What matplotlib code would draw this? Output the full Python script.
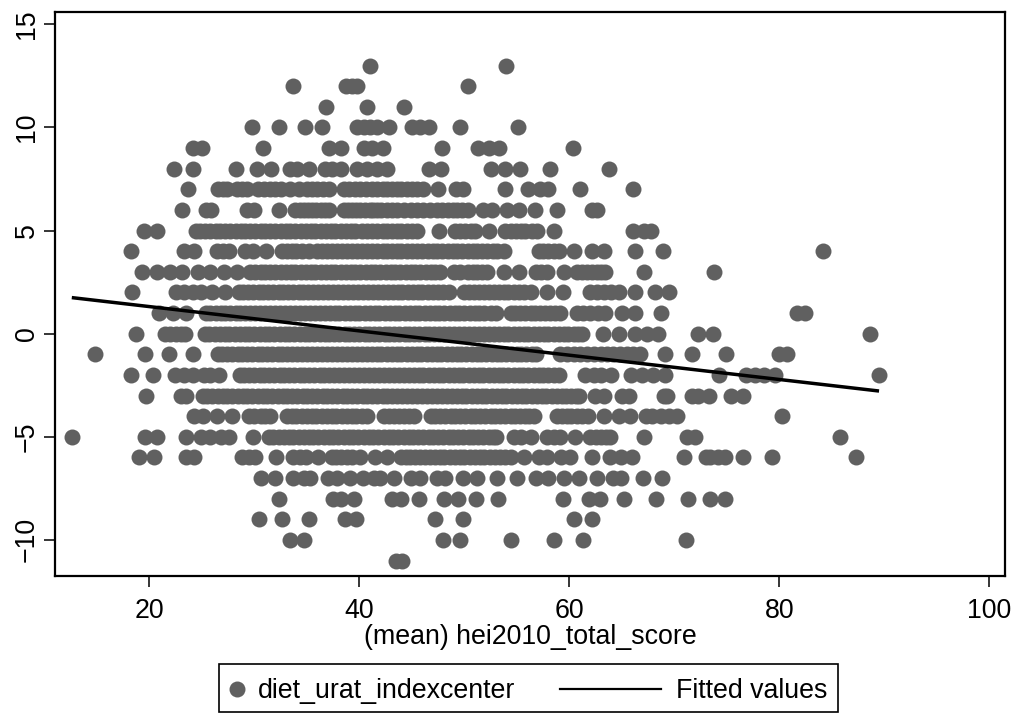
import matplotlib
matplotlib.use("Agg")
import matplotlib.pyplot as plt
from matplotlib.lines import Line2D
from matplotlib.patches import Rectangle

plt.rcParams['font.family'] = ['Liberation Sans', 'DejaVu Sans']

row_13 = [41.0, 54.0]
row_12 = [33.7, 38.7, 39.3, 39.8, 50.3]
row_11 = [36.8, 40.7, 44.2]
row_10 = [29.8, 32.3, 34.8, 36.4, 39.8, 40.4, 41.05, 41.7, 42.8, 45.0, 45.8, 46.6, 49.6, 55.1]
row_9 = [24.1, 25.0, 30.8, 37.1, 38.2, 40.4, 41.2, 42.2, 47.9, 51.3, 52.3, 53.3, 60.3]
row_8 = [22.3, 24.1, 28.2, 30.2, 31.6, 33.4, 34.1, 35.2, 36.7, 37.4, 38.2, 39.8, 40.7, 41.7, 42.6,
         46.6, 47.8, 52.5, 53.9, 55.3, 58.2, 63.8]
row_7 = [23.7, 26.5, 27.0, 27.4, 28.3, 28.8, 29.3, 30.3, 30.9, 31.5, 32.0, 32.5, 33.4, 34.2, 35.0, 35.5, 36.0, 36.5, 37.1,
         38.5, 39.0, 39.6, 40.1, 40.6, 41.2, 41.7, 42.2, 42.6, 43.1, 43.6, 44.0, 44.5, 45.0, 45.5, 46.1,
         47.5, 49.2, 49.9, 53.9, 56.1, 57.2, 58.0, 61.0, 66.1]
row_6 = [23.1, 25.4, 25.9, 29.3, 30.0, 32.3, 33.9, 34.3, 34.7, 35.1, 35.5, 35.9, 36.3, 36.7, 37.1, 38.5, 38.9, 39.3, 39.7, 40.1,
         40.5, 41.0, 41.3, 41.7, 42.1, 42.6, 43.1, 43.6, 44.2, 44.9, 45.5, 46.1, 46.7, 47.4, 47.9, 48.4, 48.9, 49.3, 49.8, 50.3,
         51.8, 52.6, 54.1, 55.2, 56.7, 58.8, 62.2, 62.6]
row_5 = [19.5, 20.7, 24.4, 24.8, 25.3, 25.8, 26.3, 26.7, 27.2, 27.7, 28.2, 28.7, 29.1, 29.6, 30.1, 30.6, 31.0, 31.5, 32.0, 32.5,
         33.0, 33.4, 33.9, 34.4, 34.9, 35.4, 35.8, 36.3, 36.8, 37.3, 37.7, 38.2, 38.7, 39.2, 39.6, 40.2, 40.7, 41.2, 41.7, 42.2,
         42.6, 43.1, 43.6, 44.0, 44.5, 45.0, 45.5, 47.6, 49.1, 49.6, 50.1, 50.6, 51.0, 52.3,
         53.9, 54.4, 54.9, 55.4, 55.8, 56.4, 56.9, 58.5, 66.1, 67.1, 67.8]
row_4 = [18.2, 23.3, 24.2, 26.4, 27.0, 27.6, 29.1, 29.9, 31.1, 32.6, 33.1, 33.6, 34.0, 34.5, 35.2, 36.0, 36.4, 36.9, 37.4, 37.9,
         38.3, 38.8, 39.3, 39.8, 40.2, 40.7, 41.2, 41.7, 42.2, 42.6, 43.1, 43.6, 44.0, 44.5, 45.0, 45.5, 46.0, 46.5, 47.0, 47.4,
         47.9, 48.4, 48.9, 49.3, 49.8, 50.3, 50.8, 51.2, 51.7, 52.2, 52.7, 53.1,
         53.8, 57.1, 57.5, 58.0, 58.5, 59.0, 60.4, 62.2, 63.3, 66.3, 68.9, 84.2]
row_3 = [19.3, 20.7, 22.0, 23.1, 24.6, 25.8, 27.1, 28.3, 29.6, 30.1, 30.6, 31.0, 31.5, 32.0, 32.5, 33.0, 33.5, 33.9, 34.4, 34.9,
         35.4, 35.8, 36.3, 36.8, 37.3, 37.7, 38.2, 38.7, 39.2, 39.6, 40.1, 40.6, 41.1, 41.5, 42.0, 42.5, 43.0, 43.4, 43.9, 44.4,
         44.9, 45.3, 45.8, 46.3, 46.8, 47.2, 47.7, 49.0, 49.6, 50.3,
         50.8, 51.2, 51.7, 52.2, 53.8, 55.2, 56.8, 57.3, 57.9, 59.5, 60.7, 61.2, 61.7, 62.2, 62.6, 63.0, 63.4, 67.1, 73.8]
row_2 = [18.3, 22.5, 23.3, 24.1, 24.9, 26.0, 27.2, 28.5, 28.9, 29.4, 29.9, 30.4, 30.8, 31.3, 31.8, 32.3, 32.7, 33.2, 33.7, 34.2,
         34.6, 35.1, 35.6, 36.1, 36.5, 37.0, 37.5, 38.0, 38.4, 38.9, 39.4, 39.9, 40.3, 40.8, 41.3, 41.8, 42.2, 42.7, 43.2, 43.7,
         44.1, 44.6, 45.1, 45.6, 46.0, 46.5, 47.0, 47.5, 48.0, 48.5, 50.0, 50.4, 50.9, 51.4, 51.9, 52.3, 52.8, 53.3, 53.8, 54.2,
         54.7, 55.2, 55.7, 56.3, 57.9, 59.4, 62.0, 62.6, 63.3, 64.0, 64.7, 66.3, 68.2, 69.5]
row_1 = [20.9, 22.2, 23.5, 25.4, 25.8, 26.3, 26.8, 27.2, 27.7, 28.2, 28.6, 29.1, 29.6, 30.1, 30.5, 31.0, 31.5, 32.0, 32.4, 32.9,
         33.4, 33.9, 34.3, 34.8, 35.3, 35.8, 36.2, 36.7, 37.2, 37.7, 38.1, 38.6, 39.1, 39.6, 40.0, 40.5, 41.0, 41.5, 41.9, 42.4,
         42.9, 43.4, 43.8, 44.3, 44.8, 45.3, 45.7, 46.2, 46.7, 47.2, 47.6, 48.1, 48.6, 49.1, 49.5, 50.0, 50.5, 51.0, 51.4, 51.9,
         52.5, 53.0, 54.4, 54.8, 55.3, 55.8, 56.3, 56.7, 57.2, 57.7, 58.2, 58.6, 59.1, 60.7, 61.3, 62.0, 62.7, 63.4, 65.0, 66.3,
         68.7, 81.7, 82.4]
row_0 = [18.7, 21.5, 22.0, 22.5, 23.0, 23.4, 25.3, 25.7, 26.2, 26.7, 27.2, 27.6, 28.1, 28.6, 29.1, 29.5, 30.0, 30.5, 31.0, 31.4,
         31.9, 32.4, 32.9, 33.3, 33.8, 34.3, 34.8, 35.2, 35.7, 36.2, 36.7, 37.1, 37.6, 38.1, 38.6, 39.0, 39.5, 40.0, 40.5, 40.9,
         41.4, 41.9, 42.4, 42.8, 43.3, 43.8, 44.3, 44.7, 45.2, 45.7, 46.2, 46.6, 47.1, 47.6, 48.1, 48.5, 49.0, 49.5, 50.0, 50.4,
         50.9, 51.4, 51.9, 52.3, 52.8, 53.3, 53.8, 54.2, 54.7, 55.2, 55.7, 56.1, 56.6, 57.1, 57.6, 58.0, 58.5, 59.0, 59.5, 59.9,
         60.4, 60.8, 61.2, 63.2, 64.7, 66.3, 67.4, 68.4, 72.3, 73.7, 88.6]
row_m1 = [14.8, 19.6, 21.9, 24.1, 26.5, 26.9, 27.4, 27.9, 28.4, 28.8, 29.3, 29.8, 30.3, 30.7, 31.2, 31.7, 32.2, 32.6, 33.1, 33.6,
          34.1, 34.5, 35.0, 35.5, 36.0, 36.4, 36.9, 37.4, 37.9, 38.3, 38.8, 39.3, 39.8, 40.2, 40.7, 41.2, 41.7, 42.1, 42.6, 43.1,
          43.6, 44.0, 44.5, 45.0, 45.5, 45.9, 46.4, 46.9, 47.4, 47.8, 48.3, 48.8, 49.3, 49.7, 50.2, 50.7, 51.2, 51.6, 52.1, 52.6,
          53.1, 53.5, 54.0, 54.5, 55.0, 55.4, 55.9, 56.4, 56.8, 59.1, 59.8, 60.4, 61.0, 61.7, 62.3, 63.0, 63.6, 64.2, 64.8, 65.5,
          66.1, 66.7, 69.1, 71.7, 74.9, 80.0, 80.7]
row_m2 = [18.2, 20.3, 22.4, 23.3, 24.1, 25.2, 25.8, 26.6, 28.6, 29.0, 29.5, 30.0, 30.5, 30.9, 31.4, 31.9, 32.4, 32.8, 33.3, 33.8,
          34.3, 34.7, 35.2, 35.7, 36.2, 36.6, 37.1, 37.6, 38.1, 38.5, 39.0, 39.5, 40.0, 40.4, 40.9, 41.4, 41.9, 42.3, 42.8, 43.3,
          43.8, 44.2, 44.7, 45.2, 45.7, 46.1, 46.6, 47.1, 47.6, 48.0, 48.5, 49.0, 49.5, 49.9, 50.4, 50.9, 51.4, 51.8, 52.3, 52.8,
          53.3, 53.7, 54.2, 54.7, 55.2, 55.6, 56.1, 56.6, 57.1, 57.5, 58.0, 58.5, 59.0, 61.5, 62.3, 63.0, 64.0,
          65.9, 66.9, 68.0, 69.1, 74.3, 76.8, 77.7, 78.5, 79.6, 89.5]
row_m3 = [19.7, 23.0, 23.5, 25.1, 25.5, 26.0, 26.5, 27.0, 27.4, 27.9, 28.4, 28.9, 29.3, 29.8, 30.3, 30.8, 31.2, 31.7, 32.2, 32.7,
          33.1, 33.6, 34.1, 34.6, 35.0, 35.5, 36.0, 36.5, 36.9, 37.4, 37.9, 38.4, 38.8, 39.3, 39.8, 40.3, 40.7, 41.2, 41.7, 42.2,
          42.6, 43.1, 43.6, 44.1, 44.5, 45.0, 45.5, 46.0, 46.4, 46.9, 47.4, 47.9, 48.3, 48.8, 49.3, 49.8, 50.2, 50.7, 51.2, 51.7,
          52.1, 52.6, 53.1, 53.6, 54.0, 54.5, 55.0, 55.5, 55.9, 56.4, 56.9, 57.4, 57.8, 58.3, 58.8, 59.3, 59.7, 60.2, 60.6, 60.9,
          62.4, 63.3, 65.0, 65.7, 69.0, 69.3, 71.7, 72.3, 73.3, 75.4, 76.5]
row_m4 = [24.2, 25.1, 26.4, 27.9, 29.5, 30.0, 30.6, 31.0, 31.5, 33.1, 33.6, 34.0, 34.5, 35.0, 35.5, 35.9, 36.4, 36.9, 37.4, 37.8,
          38.3, 38.8, 39.3, 39.7, 40.2, 40.7, 42.3, 42.8, 43.3, 43.8, 44.2, 44.7, 45.2, 46.8, 47.2, 47.7, 48.2, 48.7, 49.1, 49.6,
          50.1, 50.6, 51.0, 51.5, 52.0, 52.5, 52.9, 53.4, 53.9, 54.4, 54.8, 55.3, 55.8, 56.2, 56.6, 58.8, 59.3, 59.8, 60.2, 60.7,
          61.2, 61.8, 63.3, 64.7, 65.8, 67.3, 67.9, 68.7, 69.5, 70.3, 80.3]
row_m5 = [12.6, 19.6, 20.7, 23.5, 24.9, 25.8, 26.8, 27.6, 29.9, 31.4, 31.8, 32.3, 32.8, 33.3, 33.7, 34.2, 34.7, 35.2, 35.6, 36.1,
          36.6, 37.1, 37.5, 38.0, 38.5, 39.0, 39.4, 39.9, 40.4, 40.9, 41.3, 41.8, 42.3, 42.8, 43.2, 43.7, 44.2, 44.7, 45.1, 45.6,
          46.1, 46.6, 47.0, 47.5, 48.0, 48.5, 48.9, 49.4, 49.9, 50.4, 50.8, 51.3, 51.8, 52.3, 52.7, 53.0, 54.7, 55.4, 56.3, 57.9,
          58.5, 59.1, 60.5, 62.0, 62.5, 63.0, 63.5, 63.9, 67.1, 71.2, 72.0, 85.8]
row_m6 = [19.0, 20.4, 23.5, 24.2, 28.8, 29.5, 30.1, 32.1, 33.7, 34.3, 34.9, 36.1, 37.4, 37.8, 38.2, 38.8, 39.3, 40.1, 41.5, 42.6,
          44.0, 44.4, 44.8, 45.3, 45.8, 46.2, 46.7, 47.2, 47.7, 48.1, 48.6, 49.1, 49.6, 50.0, 50.5, 51.0, 51.5, 51.9, 52.4, 52.9,
          53.4, 53.9, 54.4, 55.7, 57.1, 57.9, 59.2, 60.1, 62.2, 63.9, 64.9, 66.0, 70.9, 73.0, 73.4, 74.2, 74.8, 76.5, 79.3, 87.3]
row_m7 = [30.6, 32.0, 33.7, 34.7, 35.3, 37.0, 37.9, 39.1, 40.3, 41.4, 42.0, 43.3, 44.9, 45.8, 47.4,
          48.2, 49.9, 51.2, 53.1, 55.0, 56.8, 58.0, 59.5, 60.9, 62.6, 64.2, 64.9, 67.0, 68.8]
row_m8 = [32.3, 37.5, 38.2, 39.5, 43.1, 44.0, 45.7, 48.1, 49.4, 51.1, 53.2, 59.4, 61.9, 62.9, 65.2,
          68.3, 71.3, 73.4, 74.8]
row_m9 = [30.4, 32.6, 35.2, 38.6, 39.7, 47.2, 49.9, 60.4, 62.2]
row_m10 = [33.4, 34.7, 48.0, 49.6, 54.4, 58.5, 61.3, 71.1]
row_m11 = [43.5, 44.1]

y_levels = [13, 12, 11, 10, 9, 8, 7, 6, 5, 4, 3, 2, 1, 0, -1, -2, -3, -4, -5, -6, -7, -8, -9, -10, -11]
x_rows = [row_13, row_12, row_11, row_10, row_9, row_8, row_7, row_6, row_5, row_4, row_3, row_2, row_1,
          row_0, row_m1, row_m2, row_m3, row_m4, row_m5, row_m6, row_m7, row_m8, row_m9, row_m10, row_m11]

fit_x = [12.6, 89.5]
fit_y = [1.75, -2.78]

x_ticks = [20, 40, 60, 80, 100]
y_ticks = [-10, -5, 0, 5, 10, 15]
x_label = "(mean) hei2010_total_score"
series_label = "diet_urat_indexcenter"
fit_label = "Fitted values"

W, H = 1017, 713
GREY = "#606060"
FS = 19.3
MS = 11.5

fig = plt.figure(figsize=(W / 100, H / 100), dpi=100, facecolor="white")
ax = fig.add_axes([55 / W, 1 - 576 / H, 950 / W, 564 / H])

xs, ys = [], []
for level, row in zip(y_levels, x_rows):
    xs += row
    ys += [level] * len(row)
ax.plot(xs, ys, linestyle="none", marker="o", ms=MS, mfc=GREY, mec=GREY, mew=0, label=series_label)
ax.plot(fit_x, fit_y, color="black", lw=2.5, label=fit_label, solid_capstyle="butt")

ax.set_xlim(11.0, 101.5)
ax.set_ylim(-11.75, 15.6)
ax.set_xticks(x_ticks)
ax.set_yticks(y_ticks)
ax.tick_params(axis="both", length=8, width=1.1, labelsize=FS, color="black")
ax.tick_params(axis="x", pad=8)
ax.tick_params(axis="y", pad=3)
for lab in ax.get_yticklabels():
    lab.set_rotation(90)
    lab.set_va("center")
for s in ax.spines.values():
    s.set_linewidth(1.6)

fig.text(530 / W, 1 - 637.5 / H, x_label, fontsize=FS, ha="center", va="center")

# legend, laid out by hand
fig.add_artist(Rectangle((219 / W, 1 - 712 / H), 619 / W, 48 / H, transform=fig.transFigure,
                         fc="white", ec="black", lw=1.2))
fig.add_artist(Line2D([237 / W], [1 - 689 / H], transform=fig.transFigure, linestyle="none",
                      marker="o", ms=MS, mfc=GREY, mec=GREY, mew=0))
fig.text(258 / W, 1 - 690.5 / H, series_label, fontsize=FS, ha="left", va="center")
fig.add_artist(Line2D([560 / W, 661 / W], [1 - 689 / H, 1 - 689 / H], transform=fig.transFigure,
                      color="black", lw=1.6))
fig.text(676 / W, 1 - 690.5 / H, fit_label, fontsize=FS, ha="left", va="center")

fig.savefig("out.png", dpi=100, facecolor="white")
